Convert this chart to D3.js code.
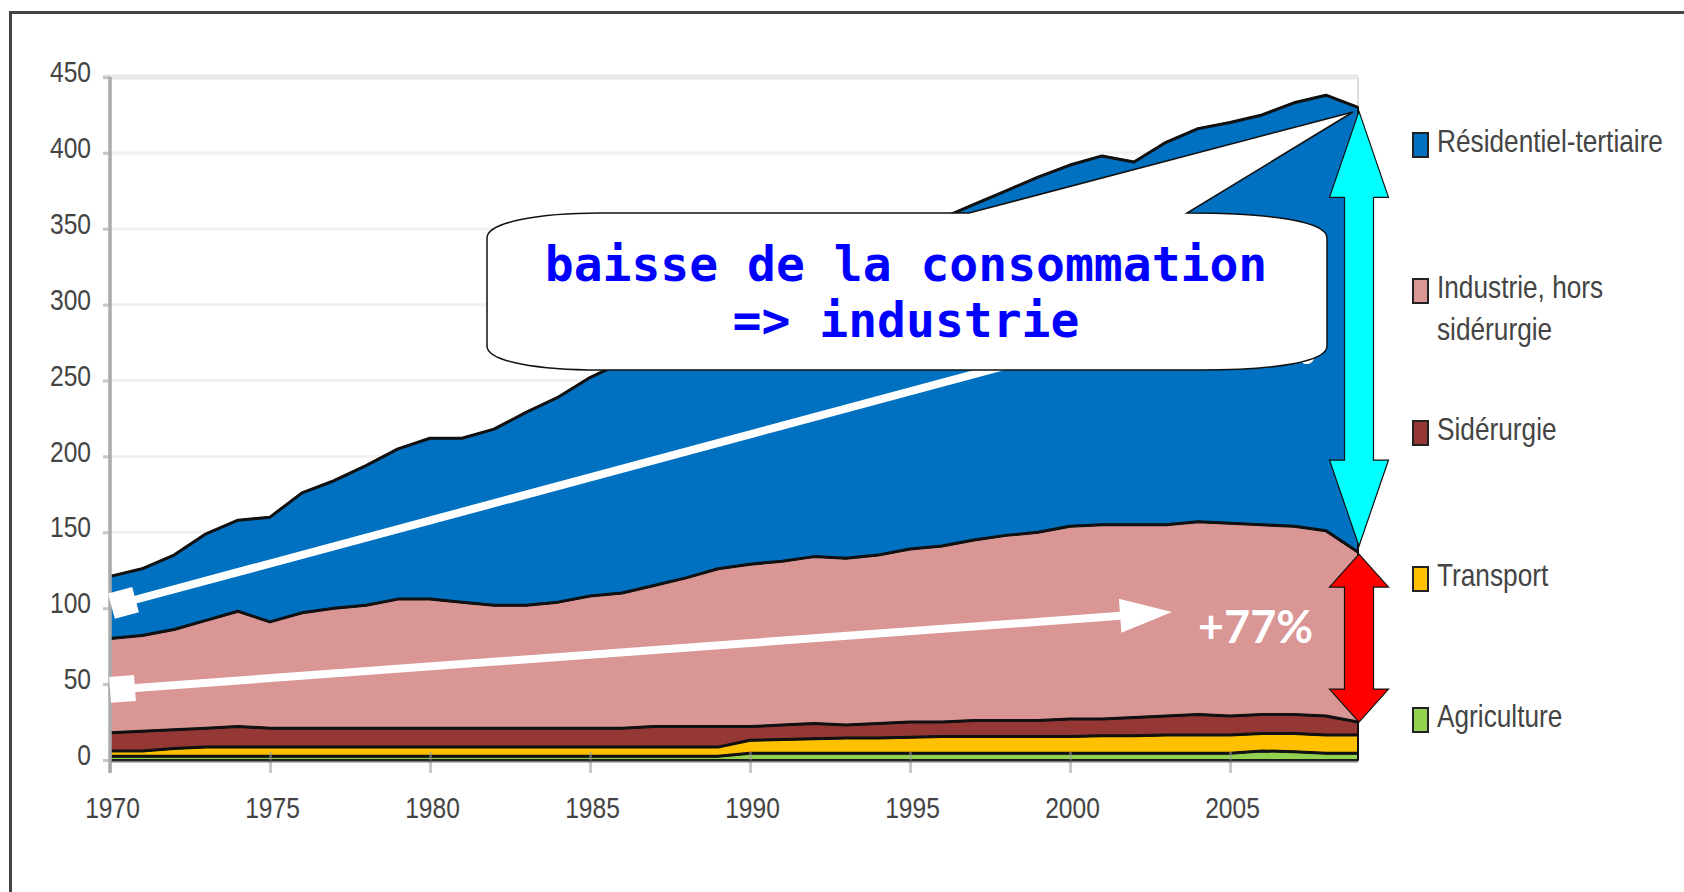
<!DOCTYPE html>
<html>
<head>
<meta charset="utf-8">
<script src="https://cdn.jsdelivr.net/npm/d3@7"></script>
<style>
html, body { margin: 0; padding: 0; background: #fff; }
svg { display: block; }
</style>
</head>
<body>
<svg id="chart" width="1684" height="892"></svg>
<script>
// consommation par secteur, 1970-2009
var years = d3.range(1970, 2010);
var agriculture = [2.5,2.5,2.5,2.5,2.5,2.5,2.5,2.5,2.5,2.5, 2.5,2.5,2.5,2.5,2.5,2.5,2.5,2.5,2.5,2.5,
                   4.5,4.5,4.5,4.5,4.5,4.5,4.5,4.5,4.5,4.5, 4.5,4.5,4.5,4.5,4.5,4.5,6,5.5,4.5,4.5];
var transport = [3.5,3.5,5,6,6,6,6,6,6,6, 6,6,6,6,6,6,6,6,6,6,
                 8.5,9,9.5,10,10,10.5,11,11,11,11, 11,11.5,11.5,12,12,12,11.5,12,12,12];
var siderurgie = [12,13,12.5,12.5,13.5,12.5,12.5,12.5,12.5,12.5, 12.5,12.5,12.5,12.5,12.5,12.5,12.5,13.5,13.5,13.5,
                  9,9.5,10,8.5,9.5,10,9.5,10.5,10.5,10.5, 11.5,11,12,12.5,13.5,12.5,12.5,12.5,12.5,8.5];
var industrie = [62,63,66,71,76,70,76,79,81,85, 85,83,81,81,83,87,89,93,98,104,
                 107,108,110,110,111,114,116,119,122,124, 127,128,127,126,127,127,125,124,122,112];
var residentiel = [41,44,49,57,60,69,79,84,92,99, 106,108,116,127,135,144,152,160,163,166,
                   173,187,193,197,200,206,216,221,227,234, 238,243,239,252,259,264,270,279,287,293];

var keys = ["agriculture", "transport", "siderurgie", "industrie", "residentiel"];
var names = {
  residentiel: ["Résidentiel-tertiaire"],
  industrie: ["Industrie, hors", "sidérurgie"],
  siderurgie: ["Sidérurgie"],
  transport: ["Transport"],
  agriculture: ["Agriculture"]
};
var colors = {
  agriculture: "#92d050",
  transport: "#ffc000",
  siderurgie: "#953735",
  industrie: "#d99694",
  residentiel: "#0070c0"
};
var yTicks = [0, 50, 100, 150, 200, 250, 300, 350, 400, 450];
var xTicks = [1970, 1975, 1980, 1985, 1990, 1995, 2000, 2005];

var series = { agriculture: agriculture, transport: transport, siderurgie: siderurgie,
               industrie: industrie, residentiel: residentiel };
var table = years.map(function(yr, i) {
  var row = { year: yr };
  keys.forEach(function(k) { row[k] = series[k][i]; });
  return row;
});
var stacked = d3.stack().keys(keys)(table);

var svg = d3.select("#chart");
var x = d3.scaleLinear().domain([1970, 2009]).range([110, 1358]);
var y = d3.scaleLinear().domain([0, 450]).range([760, 77]);

// cadre
svg.append("path")
  .attr("d", "M10.5,892 V12.5 H1684")
  .attr("fill", "none").attr("stroke", "#444").attr("stroke-width", 3);

// grille
svg.append("g").selectAll("line")
  .data(yTicks.filter(function(d) { return d > 0; }))
  .join("line")
  .attr("x1", 103).attr("x2", x(2009))
  .attr("y1", function(d) { return y(d); }).attr("y2", function(d) { return y(d); })
  .attr("stroke", function(d) { return d === 450 ? "#e8e8e8" : "#f0f0f0"; })
  .attr("stroke-width", function(d) { return d === 450 ? 5 : 3; });
svg.append("line")
  .attr("x1", x(2009)).attr("x2", x(2009)).attr("y1", y(450)).attr("y2", y(0))
  .attr("stroke", "#ddd").attr("stroke-width", 2);

// aires empilées
var area = d3.area()
  .x(function(d) { return x(d.data.year); })
  .y0(function(d) { return y(d[0]); })
  .y1(function(d) { return y(d[1]); });
var topLine = d3.line()
  .x(function(d) { return x(d.data.year); })
  .y(function(d) { return y(d[1]); });

svg.append("g").selectAll("path")
  .data(stacked)
  .join("path")
  .attr("d", area)
  .attr("fill", function(d) { return colors[d.key]; })
  .attr("stroke", "#111").attr("stroke-width", 2).attr("stroke-linejoin", "round");
svg.append("g").selectAll("path")
  .data(stacked)
  .join("path")
  .attr("d", topLine)
  .attr("fill", "none")
  .attr("stroke", "#111").attr("stroke-width", 3).attr("stroke-linejoin", "round");

// axes
var fontAxis = "'Liberation Sans', Arial, sans-serif";
var gy = svg.append("g").attr("transform", "translate(110,0)")
  .call(d3.axisLeft(y).tickValues(yTicks).tickSize(7).tickPadding(12));
gy.select(".domain").remove();
gy.selectAll(".tick line").attr("stroke", "#c8c8c8").attr("stroke-width", 3);
gy.selectAll(".tick text")
  .attr("x", 0).attr("dy", "0.32em")
  .attr("transform", "translate(-19,-5) scale(0.82,1)")
  .attr("font-family", fontAxis).attr("font-size", 30).attr("fill", "#444");

var gx = svg.append("g").attr("transform", "translate(0,760)")
  .call(d3.axisBottom(x).tickValues(xTicks).tickFormat(d3.format("d")).tickSize(13));
gx.select(".domain").remove();
gx.selectAll(".tick line").attr("y1", -8).attr("stroke", "#999")
  .attr("stroke-opacity", 0.5).attr("stroke-width", 3);
gx.selectAll(".tick text")
  .attr("y", 0).attr("dy", "0.71em")
  .attr("transform", "translate(2,37) scale(0.82,1)")
  .attr("font-family", fontAxis).attr("font-size", 30).attr("fill", "#444");

svg.append("line")
  .attr("x1", 110).attr("x2", x(2009)).attr("y1", 761).attr("y2", 761)
  .attr("stroke", "#333").attr("stroke-opacity", 0.65).attr("stroke-width", 3);
svg.append("line")
  .attr("x1", 110).attr("x2", 110).attr("y1", y(450)).attr("y2", 773)
  .attr("stroke", "#aaa").attr("stroke-width", 3.5);

// flèches blanches
function whiteArrow(x1, y1, x2, y2, head) {
  var a = Math.atan2(y2 - y1, x2 - x1) * 180 / Math.PI;
  var len = Math.hypot(x2 - x1, y2 - y1);
  var g = svg.append("g").attr("transform", "translate(" + x1 + "," + y1 + ") rotate(" + a + ")");
  g.append("rect").attr("x", -12).attr("y", -13).attr("width", 25).attr("height", 26).attr("fill", "#fff");
  g.append("line").attr("x1", 0).attr("y1", 0).attr("x2", head ? len - 48 : len).attr("y2", 0)
    .attr("stroke", "#fff").attr("stroke-width", 8);
  if (head) {
    g.append("path").attr("d", "M" + len + ",0 L" + (len - 52) + ",-17 L" + (len - 52) + ",17 Z")
      .attr("fill", "#fff");
  }
}
whiteArrow(123, 603, 1250, 300, false);
whiteArrow(122, 689, 1172, 612, true);

var fontBig = "Lato, 'Open Sans', sans-serif";
svg.append("text").attr("x", 1316).attr("y", 364).attr("text-anchor", "end")
  .attr("font-family", fontBig).attr("font-weight", 700).attr("font-size", 45)
  .attr("fill", "#fff").text("+255%");
svg.append("text").attr("x", 1198).attr("y", 643)
  .attr("font-family", fontBig).attr("font-weight", 700).attr("font-size", 45)
  .attr("fill", "#fff").text("+77%");

// bulle
svg.append("path")
  .attr("d", "M487,238 C487,222 540,213 600,213 L969,213 L1353,112 L1187,213 " +
             "C1275,213 1327,222 1327,238 L1327,346 C1327,362 1275,370 1200,370 " +
             "L600,370 C540,370 487,362 487,346 Z")
  .attr("fill", "#fff").attr("stroke", "#111").attr("stroke-width", 1.5)
  .attr("stroke-linejoin", "miter");
var fontMono = "'DejaVu Sans Mono', monospace";
svg.append("text").attr("x", 906).attr("y", 281).attr("text-anchor", "middle")
  .attr("font-family", fontMono).attr("font-weight", 700).attr("font-size", 48)
  .attr("fill", "#0000ff").text("baisse de la consommation");
svg.append("text").attr("x", 906).attr("y", 337).attr("text-anchor", "middle")
  .attr("font-family", fontMono).attr("font-weight", 700).attr("font-size", 48)
  .attr("fill", "#0000ff").text("=> industrie");

// doubles flèches
function dblArrow(cx, y1, y2, head, hw, sw) {
  return "M" + cx + "," + y1 +
    " L" + (cx + hw) + "," + (y1 + head) + " L" + (cx + sw) + "," + (y1 + head) +
    " L" + (cx + sw) + "," + (y2 - head) + " L" + (cx + hw) + "," + (y2 - head) +
    " L" + cx + "," + y2 +
    " L" + (cx - hw) + "," + (y2 - head) + " L" + (cx - sw) + "," + (y2 - head) +
    " L" + (cx - sw) + "," + (y1 + head) + " L" + (cx - hw) + "," + (y1 + head) + " Z";
}
var last = stacked.map(function(s) { return s[s.length - 1][1]; });
svg.append("path")
  .attr("d", dblArrow(x(2009) + 1, y(last[4]) + 4, y(last[3]) - 6, 86, 29.5, 14.5))
  .attr("fill", "#00ffff").attr("stroke", "#111").attr("stroke-width", 1.2);
svg.append("path")
  .attr("d", dblArrow(x(2009) + 1, y(last[3]) + 2, y(last[2]), 33, 29.5, 14.5))
  .attr("fill", "#ff0000").attr("stroke", "#111").attr("stroke-width", 1.2);

// légende
var legendRows = [
  { key: "residentiel", cy: 145 },
  { key: "industrie", cy: 291 },
  { key: "siderurgie", cy: 433 },
  { key: "transport", cy: 579 },
  { key: "agriculture", cy: 720 }
];
var lg = svg.append("g").selectAll("g").data(legendRows).join("g");
lg.append("rect")
  .attr("x", 1413).attr("y", function(d) { return d.cy - 12; })
  .attr("width", 15).attr("height", 24)
  .attr("fill", function(d) { return colors[d.key]; })
  .attr("stroke", "#222").attr("stroke-width", 2);
lg.each(function(d) {
  var g = d3.select(this);
  names[d.key].forEach(function(line, i) {
    g.append("text")
      .attr("transform", "translate(1437," + (d.cy + 7 + i * 42) + ") scale(0.82,1)")
      .attr("font-family", fontAxis).attr("font-size", 32).attr("fill", "#444")
      .text(line);
  });
});
</script>
</body>
</html>
